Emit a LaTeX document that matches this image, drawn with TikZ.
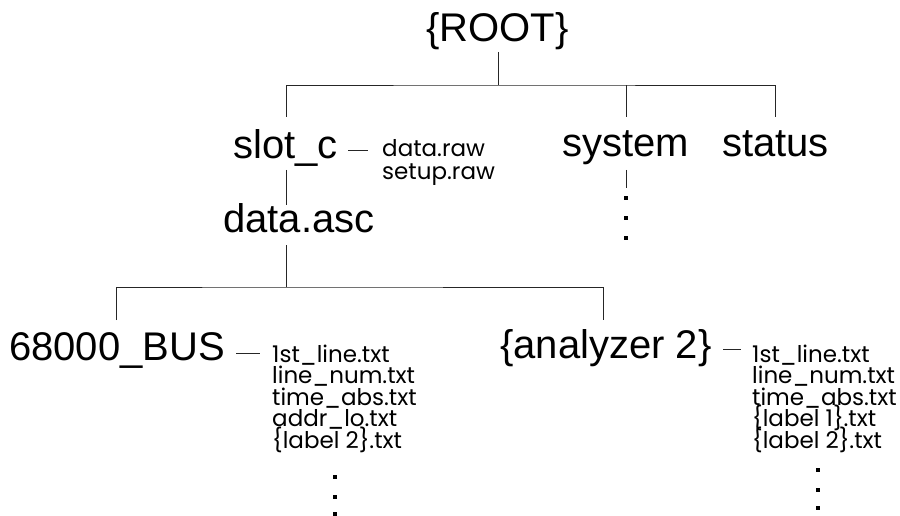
\documentclass[tikz,border=0pt]{standalone}
\usepackage{fontspec}
\setmainfont{Liberation Sans}
\newfontfamily\smallfam{Poppins}
\tikzset{
  x=1pt, y=-1pt,
  big/.style={font=\fontsize{40}{40}\selectfont, inner sep=0pt, anchor=base west},
  small/.style={font=\smallfam\fontsize{23}{23}\selectfont, inner sep=0pt, anchor=base west},
  dotmark/.style={rectangle, fill=black, inner sep=0pt, minimum size=3.5pt},
  link/.style={line width=0.9pt, color=black!85}
}
\begin{document}
\begin{tikzpicture}
\useasboundingbox (0,0) rectangle (900,516);
% main labels
\node[big, anchor=base] (root) at (497.5,42) {\{ROOT\}};
\node[big] (slot) at (233,159) {slot\_c};
\node[big] (system) at (562,157) {system};
\node[big] (status) at (722,157) {status};
\node[big] (asc) at (223,232) {data.asc};
\node[big] (bus) at (9,360) {68000\_BUS};
\node[big] (ana) at (500,358) {\{analyzer 2\}};
% slot_c files
\node[small] (sraw1) at (382,157) {data.raw};
\node[small] (sraw2) at (382,179) {setup.raw};
% bus files
\node[small] (b1) at (272,362) {1st\_line.txt};
\node[small] (b2) at (272,383.5) {line\_num.txt};
\node[small] (b3) at (272,405) {time\_abs.txt};
\node[small] (b4) at (272,426.5) {addr\_lo.txt};
\node[small] (b5) at (272,448) {\{label 2\}.txt};
% analyzer files
\node[small] (a1) at (752,362) {1st\_line.txt};
\node[small] (a2) at (752,383.5) {line\_num.txt};
\node[small] (a3) at (752,405) {time\_abs.txt};
\node[small] (a4) at (752,426.5) {\{label 1\}.txt};
\node[small] (a5) at (752,448) {\{label 2\}.txt};
% dots
\node[dotmark] (sd1) at (626,198) {};
\node[dotmark] (sd2) at (626,218) {};
\node[dotmark] (sd3) at (626,238) {};
\node[dotmark] (bd1) at (335,477) {};
\node[dotmark] (bd2) at (335,497) {};
\node[dotmark] (bd3) at (335,514) {};
\node[dotmark] (ad1) at (818,470) {};
\node[dotmark] (ad2) at (818,490) {};
\node[dotmark] (ad3) at (818,508) {};
% junction coordinates
\coordinate (rootB) at (498,52);
\coordinate (rootJ) at (498,85);
\coordinate (slotT) at (286,117);
\coordinate (sysT) at (626,117);
\coordinate (statT) at (775,117);
\coordinate (slotB) at (286,170);
\coordinate (ascT) at (286,205);
\coordinate (sysB) at (626,170);
\coordinate (sysE) at (626,188);
\coordinate (ascB) at (286,245);
\coordinate (ascJ) at (286,287);
\coordinate (busT) at (116,320);
\coordinate (anaT) at (603,320);
\coordinate (sdashA) at (348,150);
\coordinate (sdashB) at (368,150);
\coordinate (bdashA) at (236,353);
\coordinate (bdashB) at (260,353);
\coordinate (adashA) at (723,349);
\coordinate (adashB) at (741,349);
% connectors
\draw[link] (rootB) -- (rootJ);
\draw[link] (slotT) |- (rootJ) -| (statT);
\draw[link] (sysT) -- (sysT |- rootJ);
\draw[link] (slotB) -- (ascT);
\draw[link] (sysB) -- (sysE);
\draw[link] (ascB) -- (ascJ);
\draw[link] (busT) |- (ascJ) -| (anaT);
\draw[link] (sdashA) -- (sdashB);
\draw[link] (bdashA) -- (bdashB);
\draw[link] (adashA) -- (adashB);
\end{tikzpicture}
\end{document}
